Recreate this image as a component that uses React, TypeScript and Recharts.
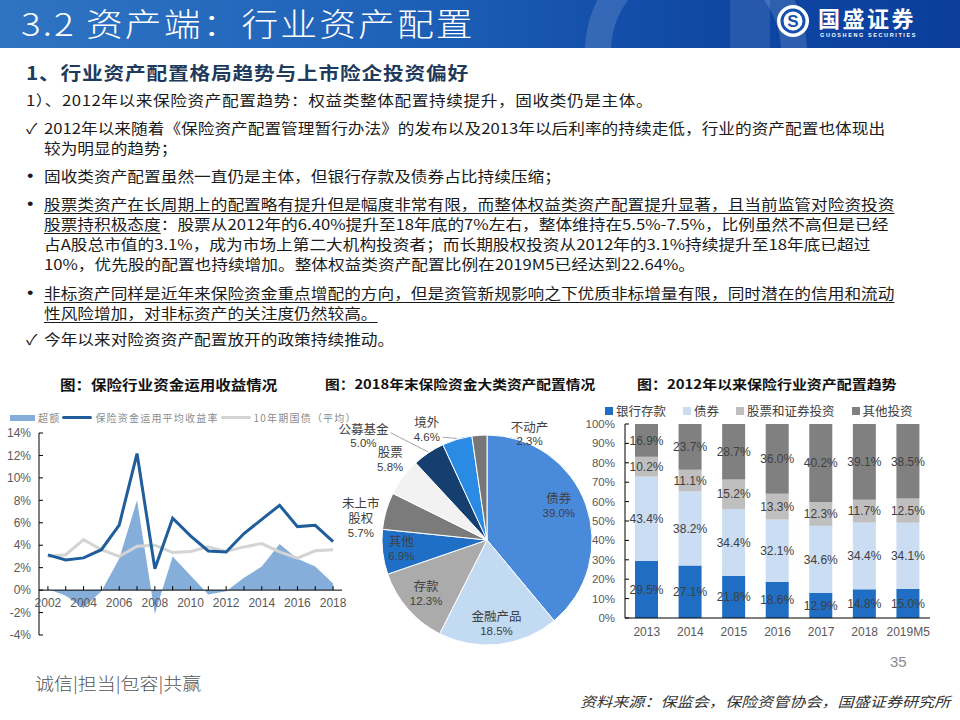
import React from "react";
import {
  ComposedChart,
  Area,
  Line,
  XAxis,
  YAxis,
  ReferenceLine,
  Legend,
  PieChart,
  Pie,
  Cell,
  BarChart,
  Bar,
  LabelList,
} from "recharts";

// ---- chart 1: 保险行业资金运用收益情况 (%)
const years = [2002, 2003, 2004, 2005, 2006, 2007, 2008, 2009, 2010, 2011, 2012, 2013, 2014, 2015, 2016, 2017, 2018];
const excessReturn = [0.1, -0.5, -1.6, -0.1, 2.8, 8.0, -2.1, 3.0, 1.3, -0.4, -0.1, 1.1, 2.1, 4.1, 2.8, 2.1, 0.6];
const avgYield = [3.14, 2.68, 2.87, 3.6, 5.8, 12.17, 1.91, 6.41, 4.84, 3.49, 3.39, 5.04, 6.3, 7.56, 5.66, 5.77, 4.33];
const bondYield = [3.0, 3.15, 4.5, 3.6, 3.0, 3.9, 4.0, 3.35, 3.45, 3.85, 3.45, 3.85, 4.15, 3.4, 2.85, 3.5, 3.6];
const yieldTicks = [-4, -2, 0, 2, 4, 6, 8, 10, 12, 14];

// ---- chart 2: 2018年末保险资金大类资产配置 (%)
const assetClasses = ["债券", "金融产品", "存款", "其他", "未上市股权", "股票", "公募基金", "境外", "不动产"];
const assetShares = [39.0, 18.5, 12.3, 6.9, 5.7, 5.8, 5.0, 4.6, 2.3];
const sliceColors = ["#4A8ADA", "#C2DAF2", "#ABABAB", "#1F6FC6", "#7B7B7B", "#F2F2F2", "#143F6E", "#2A8BE5", "#767676"];

// ---- chart 3: 2012年以来保险行业资产配置趋势 (%)
const periods = ["2013", "2014", "2015", "2016", "2017", "2018", "2019M5"];
const bankDeposits = [29.5, 27.1, 21.8, 18.6, 12.9, 14.8, 15.0];
const bonds = [43.4, 38.2, 34.4, 32.1, 34.6, 34.4, 34.1];
const stocks = [10.2, 11.1, 15.2, 13.3, 12.3, 11.7, 12.5];
const others = [16.9, 23.7, 28.7, 36.0, 40.2, 39.1, 38.5];
const shareTicks = [0, 10, 20, 30, 40, 50, 60, 70, 80, 90, 100];

const SANS = '"Noto Sans CJK SC", "Liberation Sans", "DejaVu Sans", sans-serif';
const NUM = '"Liberation Sans", "Noto Sans CJK SC", sans-serif';

const yieldData = years.map((y, i) => ({
  year: y,
  excess: excessReturn[i],
  avg: avgYield[i],
  bond: bondYield[i],
}));
const pieData = assetClasses.map((name, i) => ({ name, value: assetShares[i] }));
const barData = periods.map((p, i) => ({
  period: p,
  deposit: bankDeposits[i],
  bond: bonds[i],
  stock: stocks[i],
  other: others[i],
}));

// line chart geometry
const LINE_H = 245;
const LINE_MARGIN = { top: 28, right: 8, bottom: 14, left: 0 };
const LINE_XAXIS_H = 1;
const LINE_PLOT_H = LINE_H - LINE_MARGIN.top - LINE_MARGIN.bottom - LINE_XAXIS_H;
const ZERO_SHIFT = (LINE_PLOT_H * (0 - yieldTicks[0])) / (yieldTicks[yieldTicks.length - 1] - yieldTicks[0]);

const YearTick = (props: any) => {
  const { x, y, payload } = props;
  const y0 = y - ZERO_SHIFT;
  const yr = Number(payload.value);
  return (
    <g>
      <line x1={x} x2={x} y1={y0} y2={y0 - 4} stroke="#000" />
      {yr % 2 === 0 && (
        <text x={x} y={y0 + 17} textAnchor="middle" fontSize={12} fill="#595959" fontFamily={NUM}>
          {yr}
        </text>
      )}
    </g>
  );
};

const lineLegend = [
  { name: "超额", color: "#86AEDB", kind: "rect" },
  { name: "保险资金运用平均收益率", color: "#1F5E9A", kind: "line" },
  { name: "10年期国债（平均）", color: "#D4D4D4", kind: "line" },
];

const renderLineLegend = () => (
  <div style={{ display: "flex", alignItems: "center", whiteSpace: "nowrap", fontFamily: SANS, fontSize: 10, letterSpacing: 1.2, color: "#8C8C8C" }}>
    {lineLegend.map((it) => (
      <span key={it.name} style={{ display: "inline-flex", alignItems: "center", marginRight: 2 }}>
        {it.kind === "rect" ? (
          <span style={{ width: 25, height: 6, background: it.color }} />
        ) : (
          <span style={{ width: 30, height: 3, borderRadius: 2, background: it.color }} />
        )}
        <span style={{ marginLeft: 3 }}>{it.name}</span>
      </span>
    ))}
  </div>
);

const barLegend = [
  { name: "银行存款", color: "#1F6EC3" },
  { name: "债券", color: "#CADDF2" },
  { name: "股票和证券投资", color: "#BFBFBF" },
  { name: "其他投资", color: "#808080" },
];

const renderBarLegend = () => (
  <div style={{ display: "flex", alignItems: "center", whiteSpace: "nowrap", fontFamily: SANS, fontSize: 12.5, color: "#404040" }}>
    {barLegend.map((it) => (
      <span key={it.name} style={{ display: "inline-flex", alignItems: "center", marginRight: 17 }}>
        <span style={{ width: 8, height: 8, background: it.color }} />
        <span style={{ marginLeft: 3 }}>{it.name}</span>
      </span>
    ))}
  </div>
);

// label placement for pie slices: radius factor, angle turn, optional leader end offset
const labelPlacement: Record<string, { r: number; turn: number; lead?: [number, number] }> = {
  债券: { r: 0.76, turn: 6 },
  金融产品: { r: 0.8, turn: 0 },
  存款: { r: 0.77, turn: 0 },
  其他: { r: 0.82, turn: -1 },
  未上市股权: { r: 1.22, turn: 6 },
  股票: { r: 1.2, turn: -3 },
  公募基金: { r: 1.54, turn: 16, lead: [27, -3] },
  境外: { r: 1.2, turn: 12, lead: [16, 8] },
  不动产: { r: 1.09, turn: -26 },
};

const RAD = Math.PI / 180;

const renderSliceLabel = (props: any) => {
  const { cx, cy, midAngle, outerRadius, index } = props;
  const name = assetClasses[index];
  const value = assetShares[index];
  const p = labelPlacement[name] ?? { r: 0.7, turn: 0 };
  const a = (midAngle + p.turn) * RAD;
  const x = cx + outerRadius * p.r * Math.cos(a);
  const y = cy - outerRadius * p.r * Math.sin(a);
  const rows = name === "未上市股权" ? ["未上市", "股权"] : [name];
  const all = [...rows, `${value.toFixed(1)}%`];
  const first = y - ((all.length - 1) * 15) / 2;
  let leader = null;
  if (p.lead) {
    const ex = cx + (outerRadius + 1) * Math.cos(midAngle * RAD);
    const ey = cy - (outerRadius + 1) * Math.sin(midAngle * RAD);
    leader = <line x1={ex} y1={ey} x2={x + p.lead[0]} y2={y + p.lead[1]} stroke="#A6A6A6" strokeWidth={1} />;
  }
  return (
    <g>
      {leader}
      {all.map((t, i) => (
        <text
          key={i}
          x={x}
          y={first + i * 15}
          textAnchor="middle"
          dominantBaseline="central"
          fontSize={i === all.length - 1 ? 11.5 : 12.5}
          fontFamily={i === all.length - 1 ? NUM : SANS}
          fill="#404040"
        >
          {t}
        </text>
      ))}
    </g>
  );
};

function Txt({ x, y, size, children, style }: { x: number; y: number; size: number; children: React.ReactNode; style?: React.CSSProperties }) {
  return (
    <div
      style={{
        position: "absolute",
        left: x,
        top: y - 12,
        height: 24,
        lineHeight: "24px",
        fontSize: size,
        whiteSpace: "nowrap",
        transform: "scaleX(1.15)",
        transformOrigin: "0 50%",
        ...style,
      }}
    >
      {children}
    </div>
  );
}

const U = ({ children }: { children: React.ReactNode }) => (
  <span style={{ textDecoration: "underline", textUnderlineOffset: 3, textDecorationThickness: 1 }}>{children}</span>
);

const BODY = { color: "#1A1A1A", fontFamily: SANS };
const DOT = { color: "#1A1A1A", fontFamily: NUM, fontSize: 16 };
const TEXT_X = 44;
const BULLET_X = 26;

export default function App() {
  return (
    <div style={{ position: "absolute", left: 0, top: 0, width: 960, height: 720, background: "#fff", overflow: "hidden", fontFamily: SANS }}>
      {/* banner */}
      <div
        style={{
          position: "absolute",
          left: 0,
          top: 0,
          width: 960,
          height: 48,
          overflow: "hidden",
          background: "linear-gradient(90deg, #2F74C2 0%, #1F62B8 40%, #0E47A4 75%, #0B3E9C 100%)",
        }}
      >
        <div style={{ position: "absolute", left: 585, top: -60, width: 170, height: 170, borderRadius: "50%", border: "26px solid rgba(255,255,255,0.14)" }} />
        <div style={{ position: "absolute", left: 730, top: 0, width: 40, height: 48, background: "rgba(255,255,255,0.10)" }} />
        <Txt x={21} y={22} size={32} style={{ color: "#fff", fontWeight: 300, letterSpacing: 1.8 }}>
          3.2 资产端：行业资产配置
        </Txt>
        <svg width={36} height={36} style={{ position: "absolute", left: 775, top: 3 }}>
          <circle cx={18} cy={18} r={16} fill="#fff" />
          <circle cx={18} cy={18} r={11} fill="none" stroke="#1650AE" strokeWidth={3} />
          <text x={18} y={24} textAnchor="middle" fontSize={17} fontWeight={700} fill="#1650AE" fontFamily={NUM}>
            S
          </text>
        </svg>
        <div style={{ position: "absolute", left: 818, top: 5, fontSize: 22, fontWeight: 700, color: "#fff", letterSpacing: 2.5, lineHeight: "24px" }}>国盛证券</div>
        <div style={{ position: "absolute", left: 820, top: 32, fontSize: 5.5, lineHeight: "7px", color: "#fff", letterSpacing: 1.6, fontFamily: NUM, fontWeight: 700 }}>
          GUOSHENG SECURITIES
        </div>
      </div>

      {/* text */}
      <Txt x={26} y={72} size={18} style={{ color: "#203A5C", fontWeight: 700, letterSpacing: 0.7 }}>
        1、行业资产配置格局趋势与上市险企投资偏好
      </Txt>
      <Txt x={26} y={100} size={14.5} style={{ ...BODY, letterSpacing: 0.5 }}>
        1）、2012年以来保险资产配置趋势：权益类整体配置持续提升，固收类仍是主体。
      </Txt>
      <Txt x={BULLET_X} y={128} size={14.5} style={BODY}>✓</Txt>
      <Txt x={TEXT_X} y={128} size={14.5} style={BODY}>
        2012年以来随着《保险资产配置管理暂行办法》的发布以及2013年以后利率的持续走低，行业的资产配置也体现出
      </Txt>
      <Txt x={TEXT_X} y={148} size={14.5} style={BODY}>较为明显的趋势；</Txt>
      <Txt x={BULLET_X + 1} y={176} size={14.5} style={DOT}>•</Txt>
      <Txt x={TEXT_X} y={176} size={14.5} style={BODY}>
        固收类资产配置虽然一直仍是主体，但银行存款及债券占比持续压缩；
      </Txt>
      <Txt x={BULLET_X + 1} y={204} size={14.5} style={DOT}>•</Txt>
      <Txt x={TEXT_X} y={204} size={14.5} style={BODY}>
        <U>股票类资产在长周期上的配置略有提升但是幅度非常有限，而整体权益类资产配置提升显著，且当前监管对险资投资</U>
      </Txt>
      <Txt x={TEXT_X} y={224} size={14.5} style={BODY}>
        <U>股票持积极态度</U>：股票从2012年的6.40%提升至18年底的7%左右，整体维持在5.5%-7.5%，比例虽然不高但是已经
      </Txt>
      <Txt x={TEXT_X} y={244} size={14.5} style={BODY}>
        占A股总市值的3.1%，成为市场上第二大机构投资者；而长期股权投资从2012年的3.1%持续提升至18年底已超过
      </Txt>
      <Txt x={TEXT_X} y={264} size={14.5} style={BODY}>
        10%，优先股的配置也持续增加。整体权益类资产配置比例在2019M5已经达到22.64%。
      </Txt>
      <Txt x={BULLET_X + 1} y={293} size={14.5} style={DOT}>•</Txt>
      <Txt x={TEXT_X} y={293} size={14.5} style={BODY}>
        <U>非标资产同样是近年来保险资金重点增配的方向，但是资管新规影响之下优质非标增量有限，同时潜在的信用和流动</U>
      </Txt>
      <Txt x={TEXT_X} y={313} size={14.5} style={BODY}>
        <U>性风险增加，对非标资产的关注度仍然较高。</U>
      </Txt>
      <Txt x={BULLET_X} y={339} size={14.5} style={BODY}>✓</Txt>
      <Txt x={TEXT_X} y={339} size={14.5} style={BODY}>
        今年以来对险资资产配置放开的政策持续推动。
      </Txt>

      {/* chart titles */}
      <Txt x={60} y={384} size={13.5} style={{ fontWeight: 700, color: "#111" }}>图：保险行业资金运用收益情况</Txt>
      <Txt x={325} y={384} size={12.8} style={{ fontWeight: 700, color: "#111" }}>图：2018年末保险资金大类资产配置情况</Txt>
      <Txt x={637} y={384} size={13} style={{ fontWeight: 700, color: "#111" }}>图：2012年以来保险行业资产配置趋势</Txt>

      {/* chart 1 */}
      <div style={{ position: "absolute", left: 0, top: 405 }}>
        <ComposedChart width={350} height={LINE_H} data={yieldData} margin={LINE_MARGIN}>
          <XAxis
            dataKey="year"
            type="number"
            domain={[2001.5, 2018.5]}
            ticks={years}
            interval={0}
            height={LINE_XAXIS_H}
            axisLine={false}
            tickLine={false}
            tickSize={0}
            tickMargin={0}
            tick={<YearTick />}
          />
          <YAxis
            width={39}
            domain={[yieldTicks[0], yieldTicks[yieldTicks.length - 1]]}
            ticks={yieldTicks}
            interval={0}
            tickFormatter={(v) => `${v}%`}
            axisLine={{ stroke: "#000" }}
            tickLine={{ stroke: "#000" }}
            tickSize={-4}
            tickMargin={12}
            tick={{ fontSize: 12, fill: "#595959", fontFamily: NUM }}
          />
          <Legend
            content={renderLineLegend}
            layout="horizontal"
            align="center"
            verticalAlign="middle"
            wrapperStyle={{ top: 5, left: 10, width: "auto" }}
          />
          <Area
            dataKey="excess"
            name="超额"
            type="linear"
            baseValue={0}
            fill="#86AEDB"
            fillOpacity={1}
            stroke="none"
            isAnimationActive={false}
          />
          <ReferenceLine y={0} stroke="#000" />
          <Line
            dataKey="bond"
            name="10年期国债（平均）"
            type="linear"
            stroke="#D4D4D4"
            strokeWidth={3}
            dot={false}
            isAnimationActive={false}
          />
          <Line
            dataKey="avg"
            name="保险资金运用平均收益率"
            type="linear"
            stroke="#1F5E9A"
            strokeWidth={3}
            dot={false}
            isAnimationActive={false}
          />
        </ComposedChart>
      </div>

      {/* chart 2 */}
      <div style={{ position: "absolute", left: 320, top: 400 }}>
        <PieChart width={290} height={260}>
          <Pie
            data={pieData}
            dataKey="value"
            nameKey="name"
            cx={162}
            cy={135}
            outerRadius={105}
            startAngle={90}
            endAngle={-270}
            stroke="#fff"
            strokeWidth={1}
            label={renderSliceLabel}
            labelLine={false}
            isAnimationActive={false}
          >
            {pieData.map((d, i) => (
              <Cell key={d.name} fill={sliceColors[i]} />
            ))}
          </Pie>
        </PieChart>
      </div>

      {/* chart 3 */}
      <div style={{ position: "absolute", left: 585, top: 400 }}>
        <BarChart width={365} height={250} data={barData} margin={{ top: 24, right: 20, bottom: 2, left: 0 }} barSize={23}>
          <XAxis
            dataKey="period"
            height={30}
            axisLine={{ stroke: "#000" }}
            tickLine={false}
            tickSize={0}
            tickMargin={9}
            tick={{ fontSize: 12, fill: "#595959", fontFamily: NUM }}
            interval={0}
          />
          <YAxis
            width={40}
            domain={[0, 100]}
            allowDataOverflow
            ticks={shareTicks}
            interval={0}
            tickFormatter={(v) => `${v}%`}
            axisLine={{ stroke: "#000" }}
            tickLine={{ stroke: "#000" }}
            tickSize={-4}
            tickMargin={14}
            tick={{ fontSize: 11.5, fill: "#595959", fontFamily: NUM }}
          />
          <Legend
            content={renderBarLegend}
            layout="horizontal"
            align="center"
            verticalAlign="middle"
            wrapperStyle={{ top: 1, left: 20, width: "auto" }}
          />
          <Bar dataKey="deposit" name="银行存款" stackId="a" fill="#1F6EC3" isAnimationActive={false}>
            <LabelList dataKey="deposit" position="center" formatter={(v: any) => `${Number(v).toFixed(1)}%`} fill="#404040" fontSize={12} fontFamily={NUM} />
          </Bar>
          <Bar dataKey="bond" name="债券" stackId="a" fill="#CADDF2" isAnimationActive={false}>
            <LabelList dataKey="bond" position="center" formatter={(v: any) => `${Number(v).toFixed(1)}%`} fill="#404040" fontSize={12} fontFamily={NUM} />
          </Bar>
          <Bar dataKey="stock" name="股票和证券投资" stackId="a" fill="#BFBFBF" isAnimationActive={false}>
            <LabelList dataKey="stock" position="center" formatter={(v: any) => `${Number(v).toFixed(1)}%`} fill="#404040" fontSize={12} fontFamily={NUM} />
          </Bar>
          <Bar dataKey="other" name="其他投资" stackId="a" fill="#808080" isAnimationActive={false}>
            <LabelList dataKey="other" position="center" formatter={(v: any) => `${Number(v).toFixed(1)}%`} fill="#404040" fontSize={12} fontFamily={NUM} />
          </Bar>
        </BarChart>
      </div>

      {/* footer */}
      <div style={{ position: "absolute", left: 890, top: 653, fontSize: 15, color: "#8C8C8C", fontFamily: NUM }}>35</div>
      <Txt x={35} y={683} size={16.5} style={{ color: "#555", fontWeight: 300 }}>
        诚信|担当|包容|共赢
      </Txt>
      <Txt x={580} y={701} size={14} style={{ color: "#333", fontStyle: "italic" }}>
        资料来源：保监会，保险资管协会，国盛证券研究所
      </Txt>
    </div>
  );
}
